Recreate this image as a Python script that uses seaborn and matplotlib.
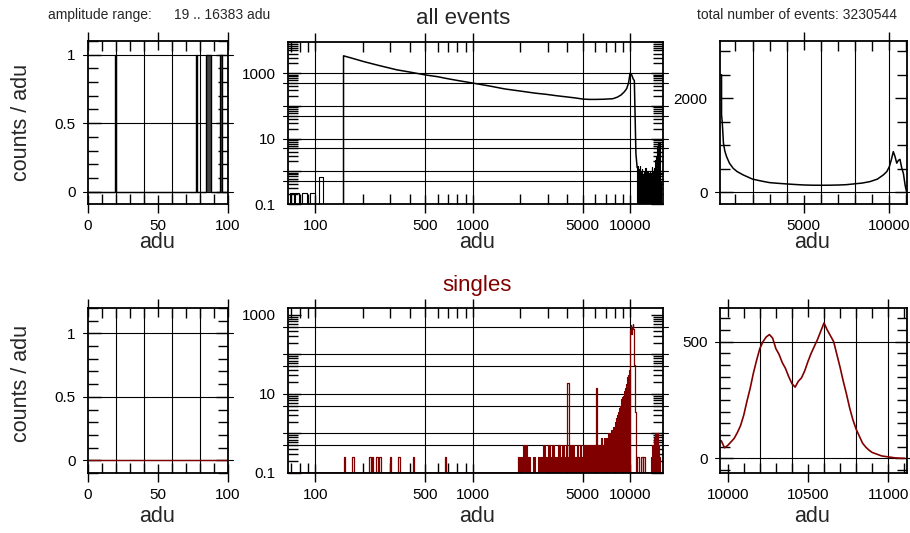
import numpy as np
import matplotlib
matplotlib.use("Agg")
import matplotlib.pyplot as plt
import matplotlib.ticker as mticker
import seaborn as sns

# ---------------- data ----------------
# all events, 0..100 adu (1-adu bins with one count)
all_low_hit_bins = [19, 77, 84, 85, 86, 87, 94, 95]
# singles, 0..100 adu: no counts
singles_low_hit_bins = []

# all events, log-log panel
all_bar_edges = [66, 69, 73, 74, 79, 82, 89, 93, 99, 106, 112, 151]
all_bar_vals = [0, 0.22, 0, 0.22, 0, 0.22, 0, 0.22, 0, 0.66, 0]
all_main_x = [151, 151, 170, 202, 250, 329, 400, 500, 600, 681, 800, 1000, 1300, 1600, 2000,
              2500, 2930, 3400, 3900, 4500, 5000, 5500, 6060, 6800, 7780, 8300, 8760, 9200,
              9530, 9800, 10000, 10250, 10500, 10650, 10750, 10900, 11100]
all_main_y = [0, 3400, 2900, 2280, 1750, 1270, 1080, 886, 780, 690, 600, 500, 400, 330, 285,
              245, 226, 205, 190, 175, 162, 158, 158, 160, 166, 185, 215, 270,
              340, 520, 1000, 880, 650, 600, 73, 3.4, 1.3]
all_tail_edges = [11100, 11200, 11300, 11400, 11500, 11600, 11700, 11800, 11900, 12000,
                  12100, 12200, 12300, 12400, 12500, 12600, 12700, 12800, 12900, 13000,
                  13100, 13200, 13300, 13400, 13500, 13600, 13700, 13800, 13900, 14000,
                  14100, 14200, 14300, 14400, 14500, 14600, 14700, 14800, 14900, 15000,
                  15100, 15200, 15300, 15400, 15500, 15600, 15700]
all_tail_vals = [1.5, 0.6, 1.2, 0.8, 1.5, 0.6, 1.0, 0.5, 1.2, 0.8,
                 0.7, 1.0, 0.6, 0.9, 1.3, 0.7, 0.9, 0.6, 1.0, 0.8,
                 0.7, 0.9, 1.0, 0.6, 0.9, 0.7, 1.4, 0.8, 1.0, 0.8,
                 0.9, 1.1, 1.3, 1.5, 2.2, 3.0, 2.5, 4.0, 5.5, 7.0,
                 8.0, 6.5, 8.0, 4.0, 1.5, 0.5]

# all events, linear panel
all_lin_x = [100, 190, 190, 230, 270, 300, 380, 486, 650, 870, 1100, 1450, 2000, 2500, 3000,
             3500, 4000, 4500, 5000, 5500, 6000, 6500, 7100, 7500, 7900, 8400, 8870, 9300,
             9650, 9850, 10000, 10120, 10230, 10330, 10430, 10530, 10620, 10720, 10820,
             10920, 11000]
all_lin_y = [2500, 2500, 1650, 1500, 1250, 1050, 880, 757, 620, 510, 440, 370, 280, 240, 205,
             190, 177, 165, 155, 150, 149, 150, 155, 162, 177, 195, 227, 280,
             370, 440, 546, 700, 865, 760, 620, 680, 700, 520, 400,
             150, 15]

# singles, log-log panel
singles_spike_x = [151, 171, 220, 228, 243, 255, 298, 337, 415, 664, 1940]
singles_spike_y = [0.26, 0.26, 0.26, 0.26, 0.26, 0.26, 0.26, 0.26, 0.26, 0.26, 0.26]
singles_noise_edges = list(range(2000, 10001, 100))
singles_noise_vals = [0.26, 0.5, 0.26, 0, 0.26, 0, 0.26, 0.26, 0.5, 0.26,
                      0.5, 0.26, 0.5, 0.26, 0.26, 0.5, 0.26, 0.5, 0.26, 0.5,
                      0.26, 0.5, 0.26, 0.5, 0.26, 0.26, 0.5, 0.26, 0.5, 0.26,
                      0.5, 0.26, 0.5, 0.26, 0.5, 0.26, 0.5, 0.26, 0.5, 0.5,
                      0.26, 0.5, 0.26, 0.5, 0.5, 0.75, 0.5, 0.5, 0.75, 0.5,
                      0.75, 0.5, 1.0, 0.75, 0.5, 1.0, 1.2,
                      1.0, 1.5, 1.3, 2.0, 2.5, 2.2, 3.0, 3.5, 4.5, 5.0,
                      6.0, 7.5, 8.5, 9.0, 10, 12, 14, 18, 22, 27, 31, 35, 40]
singles_mid_spike_x = [3990, 6050]
singles_mid_spike_y = [19, 14]
singles_peak_edges = [10000, 10100, 10200, 10300, 10400, 10500, 10600, 10700, 10800, 10900, 11000]
singles_peak_vals = [420, 560, 330, 480, 600, 450, 55, 50, 3.6, 0]
singles_tail_spike_x = [11100, 11800, 12100]
singles_tail_spike_y = [0.26, 0.26, 0.26]
singles_bump_edges = [13600, 13800, 14000, 14200, 14400, 14600, 14800, 15000, 15200, 15400]
singles_bump_vals = [0.26, 0.5, 0.26, 0.75, 1.0, 0.75, 1.0, 0.5, 0.26]

# singles, linear zoom panel (20-adu bins, bin centres)
singles_zoom_x = list(range(9960, 11110, 20))
singles_zoom_vals = [75, 45, 55, 70, 85, 110, 140, 185, 245, 300,
                     365, 420, 470, 500, 520, 530, 515, 470, 445, 410,
                     385, 350, 320, 305, 330, 345, 375, 415, 450, 480,
                     510, 545, 580, 550, 525, 500, 445, 390, 330, 275,
                     215, 165, 125, 95, 65, 48, 35, 25, 20, 15,
                     10, 8, 6, 4, 2, 1, 0, 0]

# tick labels
lin01_ticks = [0, 50, 100]
lin01_yticks = [0, 0.5, 1]
lin01_ylabels = ["0", "0.5", "1"]
log_xticks = [100, 500, 1000, 5000, 10000]
log_xlabels = ["100", "500", "1000", "5000", "10000"]
log_yticks = [0.1, 1, 10, 100, 1000]
log_ylabels = ["0.1", "", "10", "", "1000"]

# ---------------- styling ----------------
sns.set_style("white")
plt.rcParams["font.family"] = ["Liberation Sans", "DejaVu Sans"]
DARK_RED = "#800000"
W, H = 910, 533
fig = plt.figure(figsize=(W / 100, H / 100), dpi=100)


def add_axes(l, r, t, b):
    ax = fig.add_axes([l / W, 1 - b / H, (r - l) / W, (b - t) / H])
    ax.set_facecolor("white")
    for s in ax.spines.values():
        s.set_visible(True)
        s.set_linewidth(1.3)
        s.set_color("black")
        s.set_zorder(4)
    ax.tick_params(which="both", top=True, right=True, bottom=True, left=True,
                   colors="black", labelsize=11, width=1)
    ax.tick_params(axis="x", which="major", direction="inout", length=13, pad=4)
    ax.tick_params(axis="y", which="major", direction="in", length=9, pad=9)
    ax.tick_params(which="minor", direction="in", length=7, width=1)
    ax._wpx = r - l
    return ax


def hgrid(ax, ys, ext=5):
    e = ext / ax._wpx
    for y in ys:
        ax.axhline(y, xmin=-e, xmax=1 + e, color="black", lw=0.8, clip_on=False, zorder=1)


def vgrid(ax, xs):
    for x in xs:
        ax.axvline(x, color="black", lw=0.8, zorder=1)


def step_path(edges, vals, floor):
    xs, ys = [edges[0]], [floor]
    for i, v in enumerate(vals):
        v = max(v, floor)
        xs += [edges[i], edges[i + 1]]
        ys += [v, v]
    xs.append(edges[-1])
    ys.append(floor)
    return xs, ys


def spike_path(px, py, floor, wf=1.022):
    xs, ys = [], []
    for x, y in zip(px, py):
        xs += [x, x, x * wf, x * wf]
        ys += [floor, max(y, floor), max(y, floor), floor]
    return xs, ys


def line(ax, xs, ys, color, lw=1.0):
    sns.lineplot(x=xs, y=ys, sort=False, estimator=None, ax=ax, color=color,
                 linewidth=lw, zorder=3)


def setup_lin01(ax, ylim, hits, color):
    ax.set_xlim(0, 100)
    ax.set_ylim(*ylim)
    counts = np.zeros(100)
    for h in hits:
        counts[h] = 1
    xs, ys = step_path(list(range(101)), counts, 0)
    ax.fill_between(xs, 0, ys, color="#444444", lw=0, zorder=2.9)
    line(ax, xs, ys, color, lw=1.0)
    ax.xaxis.set_major_locator(mticker.FixedLocator(lin01_ticks))
    ax.xaxis.set_minor_locator(mticker.MultipleLocator(10))
    ax.yaxis.set_major_locator(mticker.FixedLocator(lin01_yticks))
    ax.yaxis.set_major_formatter(mticker.FixedFormatter(lin01_ylabels))
    ax.yaxis.set_minor_locator(mticker.MultipleLocator(0.1))
    vgrid(ax, [20, 40, 60, 80])
    hgrid(ax, [0, 0.5, 1])


def setup_log(ax, ylim):
    ax.set_xscale("log")
    ax.set_yscale("log")
    ax.set_xlim(67, 16200)
    ax.set_ylim(*ylim)
    ax.xaxis.set_major_locator(mticker.FixedLocator(log_xticks))
    ax.xaxis.set_major_formatter(mticker.FixedFormatter(log_xlabels))
    ax.xaxis.set_minor_locator(mticker.FixedLocator(
        [70, 80, 90, 200, 300, 400, 600, 700, 800, 900,
         2000, 3000, 4000, 6000, 7000, 8000, 9000]))
    ax.xaxis.set_minor_formatter(mticker.NullFormatter())
    ax.yaxis.set_major_locator(mticker.FixedLocator(log_yticks))
    ax.yaxis.set_major_formatter(mticker.FixedFormatter(log_ylabels))
    ax.yaxis.set_minor_locator(mticker.LogLocator(base=10, subs=np.arange(2, 10), numticks=30))
    ax.yaxis.set_minor_formatter(mticker.NullFormatter())
    vgrid(ax, log_xticks)


# ---- top row: all events ----
ax_tl = add_axes(88, 228, 41, 204)
setup_lin01(ax_tl, (-0.09, 1.1), all_low_hit_bins, "black")

ax_tm = add_axes(288, 663, 42, 204)
setup_log(ax_tm, (0.1, 9000))
hgrid(ax_tm, [0.5, 1, 5, 10, 50, 100, 500, 1000])
F = 0.1
xs, ys = step_path(all_bar_edges, all_bar_vals, F)
line(ax_tm, xs, ys, "black", lw=0.8)
line(ax_tm, all_main_x, list(np.maximum(all_main_y, F)), "black", lw=1.1)
xs, ys = step_path(all_tail_edges, all_tail_vals, F)
ax_tm.fill_between(xs, F, ys, color="black", lw=0, zorder=3)
line(ax_tm, xs, ys, "black", lw=0.8)

ax_tr = add_axes(720, 907, 41, 204)
ax_tr.set_xlim(100, 11030)
ax_tr.set_ylim(-250, 3220)
ax_tr.xaxis.set_major_locator(mticker.FixedLocator([5000, 10000]))
ax_tr.xaxis.set_minor_locator(mticker.MultipleLocator(1000))
ax_tr.yaxis.set_major_locator(mticker.FixedLocator([0, 2000]))
ax_tr.yaxis.set_minor_locator(mticker.MultipleLocator(500))
vgrid(ax_tr, [2000, 4000, 6000, 8000, 10000])
hgrid(ax_tr, [0])
line(ax_tr, all_lin_x, all_lin_y, "black", lw=1.1)

# ---- bottom row: singles ----
ax_bl = add_axes(88, 228, 308, 473)
setup_lin01(ax_bl, (-0.1, 1.2), singles_low_hit_bins, DARK_RED)

ax_bm = add_axes(288, 663, 308, 473)
setup_log(ax_bm, (0.1, 1500))
hgrid(ax_bm, [0.5, 1, 5, 10, 50, 100, 500])
line(ax_bm, [67, 16200], [F, F], DARK_RED, lw=1.2)
xs, ys = spike_path(singles_spike_x, singles_spike_y, F)
line(ax_bm, xs, ys, DARK_RED, lw=0.9)
xs, ys = step_path(singles_noise_edges, singles_noise_vals, F)
ax_bm.fill_between(xs, F, ys, color=DARK_RED, lw=0, zorder=3)
line(ax_bm, xs, ys, DARK_RED, lw=0.8)
xs, ys = spike_path(singles_mid_spike_x, singles_mid_spike_y, F)
line(ax_bm, xs, ys, DARK_RED, lw=0.9)
xs, ys = step_path(singles_peak_edges, singles_peak_vals, F)
line(ax_bm, xs, ys, DARK_RED, lw=0.9)
xs, ys = spike_path(singles_tail_spike_x, singles_tail_spike_y, F)
line(ax_bm, xs, ys, DARK_RED, lw=0.9)
xs, ys = step_path(singles_bump_edges, singles_bump_vals, F)
ax_bm.fill_between(xs, F, ys, color=DARK_RED, lw=0, zorder=3)
line(ax_bm, xs, ys, DARK_RED, lw=0.8)

ax_br = add_axes(720, 907, 308, 473)
ax_br.set_xlim(9952, 11117)
ax_br.set_ylim(-63, 644)
ax_br.xaxis.set_major_locator(mticker.FixedLocator([10000, 10500, 11000]))
ax_br.xaxis.set_minor_locator(mticker.MultipleLocator(100))
ax_br.yaxis.set_major_locator(mticker.FixedLocator([0, 500]))
ax_br.yaxis.set_minor_locator(mticker.MultipleLocator(50))
vgrid(ax_br, [10200, 10400, 10600, 10800, 11000])
hgrid(ax_br, [0, 500])
line(ax_br, [9952] + singles_zoom_x, [75] + singles_zoom_vals, DARK_RED, lw=1.2)

# ---------------- texts ----------------
def ftext(x, y, s, **kw):
    fig.text(x / W, 1 - y / H, s, **kw)

ftext(48, 15, "amplitude range:", fontsize=10, ha="left", va="center")
ftext(270, 15, "19 .. 16383 adu", fontsize=10, ha="right", va="center")
ftext(897, 15, "total number of events: 3230544", fontsize=10, ha="right", va="center")
ftext(463, 18, "all events", fontsize=16, ha="center", va="center")
ftext(477, 285, "singles", fontsize=16, ha="center", va="center", color=DARK_RED)
for yc in (122, 383):
    ftext(22, yc, "counts / adu", fontsize=15.5, rotation=90, ha="center", va="center")
for yc in (243, 517):
    for xc in (157, 477, 812):
        ftext(xc, yc, "adu", fontsize=15.5, ha="center", va="center")

fig.savefig("out.png", dpi=100)
